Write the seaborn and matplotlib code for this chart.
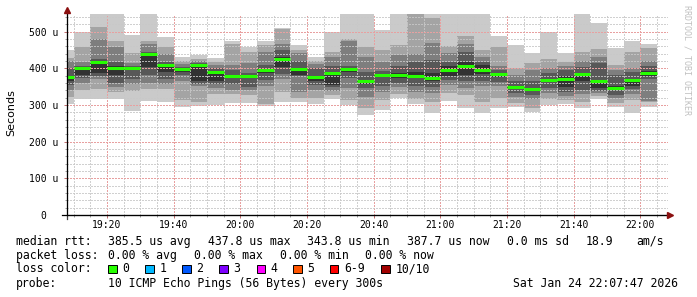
import numpy as np
import pandas as pd
import matplotlib
matplotlib.use("Agg")
import matplotlib.pyplot as plt
from matplotlib.ticker import MultipleLocator, FuncFormatter
from matplotlib.patches import Rectangle
import seaborn as sns

# ---------------- data ----------------
window_start = "19:08"
first_sample = "19:10"
last_sample = "22:05"
step = "5min"

median = [377, 401, 417, 402, 401, 438, 410, 399, 410, 389, 379, 380, 395, 425, 397, 377, 386, 398,
          365, 382, 383, 380, 373, 395, 406, 396, 385, 350, 344, 368, 371, 384, 364, 347, 368, 388]
ping01 = [303, 315, 315, 315, 284, 312, 309, 294, 297, 301, 305, 306, 297, 308, 307, 302, 315, 300,
          273, 286, 318, 303, 279, 311, 291, 279, 292, 294, 280, 300, 303, 292, 315, 294, 278, 295]
ping02 = [323, 341, 343, 336, 338, 343, 343, 314, 309, 331, 330, 328, 303, 335, 318, 318, 327, 314,
          291, 314, 330, 315, 309, 332, 327, 309, 320, 305, 292, 316, 314, 309, 325, 305, 313, 309]
ping03 = [341, 359, 370, 348, 357, 360, 358, 366, 352, 345, 340, 340, 353, 372, 336, 340, 338, 345,
          323, 336, 348, 336, 332, 355, 345, 352, 352, 321, 315, 332, 325, 330, 332, 318, 330, 310]
ping04 = [355, 373, 379, 361, 370, 381, 372, 382, 358, 356, 356, 350, 368, 385, 378, 355, 348, 373,
          345, 352, 359, 352, 350, 368, 364, 364, 363, 332, 327, 345, 336, 340, 338, 328, 343, 372]
ping05 = [364, 381, 388, 382, 396, 403, 391, 391, 365, 364, 375, 377, 386, 404, 382, 364, 354, 391,
          357, 375, 373, 375, 364, 379, 382, 385, 376, 343, 338, 363, 348, 364, 347, 340, 352, 378]
ping06 = [380, 403, 419, 406, 403, 441, 412, 400, 412, 391, 381, 382, 397, 430, 400, 380, 388, 400,
          368, 385, 388, 391, 388, 405, 418, 409, 388, 352, 347, 372, 380, 388, 368, 352, 372, 392]
ping07 = [400, 405, 425, 418, 407, 445, 416, 404, 414, 400, 395, 388, 408, 450, 420, 400, 405, 405,
          391, 393, 405, 417, 423, 418, 445, 418, 395, 364, 366, 387, 395, 403, 414, 383, 390, 405]
ping08 = [421, 418, 480, 459, 414, 467, 440, 412, 420, 408, 409, 414, 444, 467, 442, 413, 431, 475,
          432, 418, 436, 439, 468, 441, 466, 432, 405, 382, 395, 400, 406, 420, 431, 396, 400, 420]
ping09 = [427, 459, 513, 475, 443, 475, 458, 419, 426, 416, 467, 445, 464, 506, 450, 419, 445, 479,
          459, 450, 464, 560, 536, 461, 488, 450, 458, 400, 414, 425, 418, 445, 453, 410, 445, 454]
ping10 = [450, 498, 560, 560, 491, 560, 484, 432, 436, 428, 475, 458, 474, 510, 463, 431, 498, 560,
          560, 505, 560, 560, 560, 560, 560, 560, 489, 464, 441, 498, 441, 560, 524, 455, 475, 465]

y_ticks = [0, 100, 200, 300, 400, 500]

stats_rtt = ["385.5 us avg", "437.8 us max", "343.8 us min", "387.7 us now", "0.0 ms sd", "18.9", "am/s"]
stats_loss = ["0.00 % avg", "0.00 % max", "0.00 % min", "0.00 % now"]
loss_labels = ["0", "1", "2", "3", "4", "5", "6-9", "10/10"]
loss_colors = ["#26ff00", "#00b8ff", "#0059ff", "#7e00ff", "#ff00ff", "#ff5500", "#ff0000", "#a10000"]
probe_text = "10 ICMP Echo Pings (56 Bytes) every 300s"
stamp_text = "Sat Jan 24 22:07:47 2026"

# ---------------- derived ----------------
def to_min(s):
    h, m = s.split(":")
    return int(h) * 60 + int(m)

ends = pd.date_range("2026-01-24 " + first_sample, "2026-01-24 " + last_sample, freq=step)
end_min = [float(t.hour * 60 + t.minute) for t in ends]
edges = [float(to_min(window_start))] + end_min
left = np.array(edges[:-1])
right = np.array(edges[1:])
centers = (left + right) / 2

W, H = 697, 297
MONO = "DejaVu Sans Mono"
plt.rcParams["font.family"] = [MONO, "DejaVu Sans"]

fig = plt.figure(figsize=(W / 100, H / 100), dpi=100)
fig.patch.set_facecolor("white")
ax_left, ax_right, ax_bot, ax_top = 67, 668, 215, 14
ax = fig.add_axes([ax_left / W, 1 - ax_bot / H, (ax_right - ax_left) / W, (ax_bot - ax_top) / H])
ax.set_facecolor("white")

shades = ["#cacaca", "#a4a4a4", "#7e7e7e", "#585858", "#323232"]
layers = [(ping10, shades[0]), (ping09, shades[1]), (ping08, shades[2]), (ping07, shades[3]),
          (ping06, shades[4]), (ping05, shades[3]), (ping04, shades[2]), (ping03, shades[1]),
          (ping02, shades[0]), (ping01, "white")]
for vals, col in layers:
    df = pd.DataFrame({"t": centers, "v": vals})
    sns.histplot(data=df, x="t", weights="v", bins=edges, element="step", fill=True,
                 color=col, alpha=1, linewidth=0, ax=ax)

ax.hlines(median, left, right, colors=loss_colors[0], linewidth=2.2, zorder=4, capstyle="butt")

x0 = to_min(window_start)
xr = x0 + (ax_right - ax_left) / (200 / 60.0)
ax.set_xlim(x0, xr)
ax.set_ylim(0, 548)

ax.xaxis.set_major_locator(MultipleLocator(20))
ax.xaxis.set_minor_locator(MultipleLocator(5))
ax.yaxis.set_major_locator(plt.FixedLocator(y_ticks))
ax.yaxis.set_minor_locator(MultipleLocator(20))
ax.xaxis.set_major_formatter(FuncFormatter(lambda v, p: f"{int(round(v)) // 60:02d}:{int(round(v)) % 60:02d}"))
ax.yaxis.set_major_formatter(FuncFormatter(lambda v, p: "0  " if v == 0 else f"{int(v)} u"))

ax.set_axisbelow(False)
ax.grid(which="minor", color="#c8c8c8", alpha=0.85, linestyle=(0, (1.39, 1.39)), linewidth=0.72, antialiased=False)
ax.grid(which="major", color="#e8a0a0", linestyle=(0, (1.39, 1.39)), linewidth=0.72, antialiased=False)

ax.tick_params(which="both", direction="out", width=0.72)
ax.tick_params(which="minor", length=1.5, color="#a0a0a0")
ax.tick_params(which="major", length=2.2, color="#c07070")
ax.tick_params(axis="x", labelsize=7, pad=1.5)
ax.tick_params(axis="y", labelsize=7, pad=4)
for lab in ax.get_xticklabels() + ax.get_yticklabels():
    lab.set_fontfamily(MONO)

ax.set_xlabel("")
ax.set_ylabel("")
for s in ["top", "right"]:
    ax.spines[s].set_visible(False)
for s in ["left", "bottom"]:
    ax.spines[s].set_color("black")
    ax.spines[s].set_linewidth(0.8)
    ax.spines[s].set_zorder(5)

# axis extensions and arrows
ax.plot([0, 0], [-0.02, 1.02], transform=ax.transAxes, color="#404040", lw=0.9, clip_on=False, zorder=5)
ax.plot([-0.008, 1.0], [0, 0], transform=ax.transAxes, color="black", lw=0.9, clip_on=False, zorder=5)
ax.plot([0], [1.018], marker="^", markersize=4, color="#8b1010", transform=ax.transAxes, clip_on=False, zorder=6)
ax.plot([1.004], [0], marker=">", markersize=4, color="#8b1010", transform=ax.transAxes, clip_on=False, zorder=6)

# y label and watermark
fig.text(11 / W, 1 - 113 / H, "Seconds", rotation=90, ha="center", va="center",
         fontsize=8, family="DejaVu Sans", color="black")
fig.text(686.5 / W, 1 - 60 / H, "RRDTOOL / TOBI OETIKER", rotation=-90, ha="center", va="center",
         fontsize=6, family=MONO, color="#c0c0c0")

# legend / info lines
FS = 8.3
def txt(x, yb, s, **kw):
    fig.text(x / W, 1 - yb / H, s, ha="left", va="baseline", fontsize=FS, family=MONO, color="black", **kw)

txt(16, 245, "median rtt:")
for x, s in zip([108, 207.6, 306.7, 406.7, 506.7, 585.8, 636.4], stats_rtt):
    txt(x, 245, s)
txt(16, 259, "packet loss:")
for x, s in zip([108, 193.8, 280, 365.3], stats_loss):
    txt(x, 259, s)
txt(16, 272.5, "loss color:")
box_x = [108, 145.3, 182.2, 219.1, 256.9, 293.3, 329.8, 381.3]
for bx, lab, col in zip(box_x, loss_labels, loss_colors):
    fig.add_artist(Rectangle((bx / W, 1 - 273 / H), 8.5 / W, 8.5 / H, transform=fig.transFigure,
                             facecolor=col, edgecolor="black", linewidth=0.7))
    txt(bx + 14, 272.5, lab)
txt(16, 287, "probe:")
txt(108, 287, probe_text)
txt(513.3, 287, stamp_text)

fig.savefig("out.png", dpi=100, facecolor="white")
